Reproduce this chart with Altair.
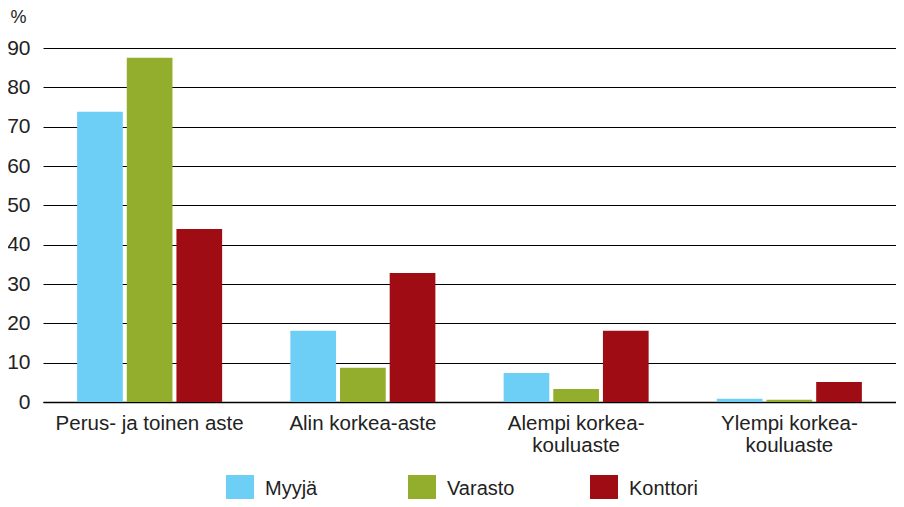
import altair as alt
import pandas as pd

categories = ["Perus- ja toinen aste", "Alin korkea-aste", "Alempi korkea-|kouluaste", "Ylempi korkea-|kouluaste"]
series = ["Myyjä", "Varasto", "Konttori"]
myyja = [73.8, 18.1, 7.4, 0.8]
varasto = [87.5, 8.7, 3.3, 0.6]
konttori = [44.0, 32.8, 18.1, 5.1]
colors = ["#6DCFF6", "#92AE2C", "#A00C14"]
y_ticks = [0, 10, 20, 30, 40, 50, 60, 70, 80, 90]

rows = []
for s, vals in zip(series, [myyja, varasto, konttori]):
    for c, v in zip(categories, vals):
        rows.append({"cat": c, "series": s, "value": v})
df = pd.DataFrame(rows)

FONT = "Liberation Sans"

chart = alt.Chart(df).mark_bar().encode(
    x=alt.X("cat:N", sort=categories,
            scale=alt.Scale(paddingInner=0.32, paddingOuter=0.16),
            axis=alt.Axis(title=None, labelAngle=0, labelExpr="split(datum.label, '|')",
                          labelFontSize=20.5, labelColor="#222222", labelFont=FONT,
                          labelPadding=11, labelLineHeight=22, ticks=False, labelLimit=400,
                          domain=True, domainColor="#000000", domainWidth=1.5,
                          grid=False, labelBaseline="top")),
    xOffset=alt.XOffset("series:N", sort=series, scale=alt.Scale(paddingInner=0.08)),
    y=alt.Y("value:Q", scale=alt.Scale(domain=[0, 90], nice=False),
            axis=alt.Axis(values=y_ticks, title="%", titleAngle=0, titleX=-33, titleY=-22,
                          titleAlign="left", titleBaseline="bottom", titleFont=FONT,
                          titleFontSize=18, titleFontWeight="normal", titleColor="#222222",
                          labelFontSize=21, labelFont=FONT, labelColor="#222222",
                          labelPadding=13, ticks=False, domain=False,
                          grid=True, gridColor="#000000", gridWidth=1)),
    color=alt.Color("series:N", sort=series,
                    scale=alt.Scale(domain=series, range=colors),
                    legend=alt.Legend(title=None, orient="none", legendX=183, legendY=427,
                                      direction="horizontal", columns=3, gridAlign="all",
                                      columnPadding=74, symbolType="square", symbolSize=784,
                                      symbolStrokeWidth=0, symbolOpacity=1,
                                      labelFontSize=20, labelFont=FONT, labelColor="#222222",
                                      labelOffset=11)),
).properties(
    width=853, height=354,
    autosize=alt.AutoSizeParams(type="none"),
    padding={"left": 35, "top": 40, "right": 0, "bottom": 97},
).configure_view(stroke=None)

chart.save("out.html", embed_options={"renderer": "svg", "actions": False})
